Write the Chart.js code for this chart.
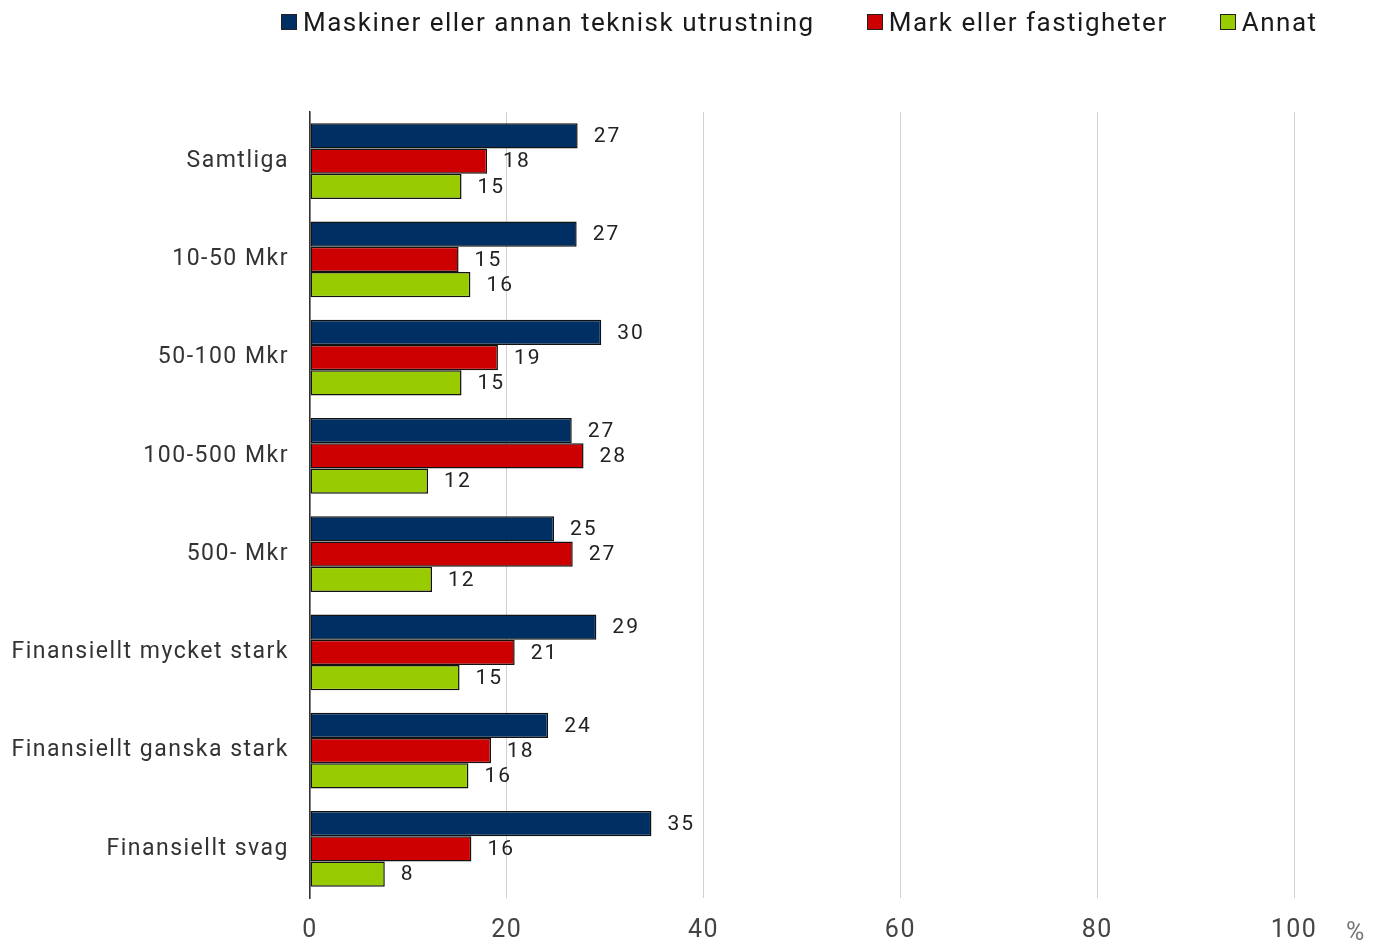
<!DOCTYPE html>
<html>
<head>
<meta charset="utf-8">
<script src="https://cdn.jsdelivr.net/npm/chart.js@4.4.1/dist/chart.umd.min.js"></script>
<style>
  body { margin: 0; background: #fff; font-family: Roboto, sans-serif; }
  #wrap { position: relative; width: 1374px; height: 944px; }
  #legend { position: absolute; left: 281px; top: 7px; display: flex; align-items: center; }
  .item { display: flex; align-items: center; margin-right: 52px; font-size: 26px; letter-spacing: 1.5px; color: #1a1a1a; }
  .box { width: 14px; height: 14px; border: 1px solid #222; margin-right: 6px; }
</style>
</head>
<body>
<div id="wrap">
  <canvas id="chart" width="1374" height="944"></canvas>
  <div id="legend"></div>
</div>
<script>
// Categories and series (percent)
const categories = ['Samtliga', '10-50 Mkr', '50-100 Mkr', '100-500 Mkr', '500- Mkr',
  'Finansiellt mycket stark', 'Finansiellt ganska stark', 'Finansiellt svag'];
const seriesNames = ['Maskiner eller annan teknisk utrustning', 'Mark eller fastigheter', 'Annat'];
const maskiner = [27.2, 27.1, 29.6, 26.6, 24.8, 29.1, 24.2, 34.7];
const mark = [18.0, 15.1, 19.1, 27.8, 26.7, 20.8, 18.4, 16.4];
const annat = [15.4, 16.3, 15.4, 12.0, 12.4, 15.2, 16.1, 7.6];
const xTicks = [0, 20, 40, 60, 80, 100];
const colors = ['#003063', '#cc0000', '#99cc00'];

// wider letter spacing like the original typeface
const spacing = {
  id: 'spacing',
  beforeDraw(chart) { chart.ctx.letterSpacing = '1.5px'; }
};

// value labels to the right of each bar
const valueLabels = {
  id: 'valueLabels',
  afterDatasetsDraw(chart) {
    const ctx = chart.ctx;
    ctx.save();
    ctx.font = '21px Roboto';
    ctx.letterSpacing = '2px';
    ctx.fillStyle = '#222';
    ctx.textAlign = 'left';
    ctx.textBaseline = 'middle';
    chart.data.datasets.forEach((ds, i) => {
      chart.getDatasetMeta(i).data.forEach((bar, j) => {
        ctx.fillText(Math.round(ds.data[j]), bar.x + 16, bar.y + 1);
      });
    });
    ctx.restore();
  }
};

// unit sign at the end of the x axis
const unitSign = {
  id: 'unitSign',
  afterDraw(chart) {
    const ctx = chart.ctx;
    ctx.save();
    ctx.font = '25px Roboto';
    ctx.fillStyle = '#777';
    ctx.textAlign = 'center';
    ctx.textBaseline = 'middle';
    ctx.fillText('%', 1356, 934);
    ctx.restore();
  }
};

const chart = new Chart(document.getElementById('chart'), {
  type: 'bar',
  data: {
    labels: categories,
    datasets: [maskiner, mark, annat].map((d, i) => ({
      label: seriesNames[i],
      data: d,
      backgroundColor: colors[i],
      borderColor: '#111',
      borderWidth: 1.5,
      borderSkipped: false,
      categoryPercentage: 0.77,
      barPercentage: 1
    }))
  },
  options: {
    indexAxis: 'y',
    responsive: false,
    animation: false,
    layout: { padding: { top: 112, right: 80, bottom: 0, left: 0 } },
    plugins: { legend: { display: false }, tooltip: { enabled: false } },
    scales: {
      x: {
        min: 0, max: 100,
        afterBuildTicks: s => { s.ticks = xTicks.map(v => ({ value: v })); },
        afterFit: s => { s.height = 46; },
        grid: { color: '#d0d0d0', lineWidth: 1, drawTicks: false },
        border: { display: false },
        ticks: { font: { size: 25, family: 'Roboto' }, color: '#444', padding: 18 }
      },
      y: {
        afterFit: s => { s.width = 310; },
        grid: { display: false, drawTicks: false },
        border: { display: true, color: '#333', width: 1.5 },
        ticks: { font: { size: 23, family: 'Roboto' }, color: '#333', padding: 21 }
      }
    }
  },
  plugins: [spacing, valueLabels, unitSign]
});

// legend built from the datasets
const legend = document.getElementById('legend');
chart.data.datasets.forEach(ds => {
  const item = document.createElement('div');
  item.className = 'item';
  item.innerHTML = '<span class="box" style="background:' + ds.backgroundColor + '"></span>' + ds.label;
  legend.appendChild(item);
});
</script>
</body>
</html>
